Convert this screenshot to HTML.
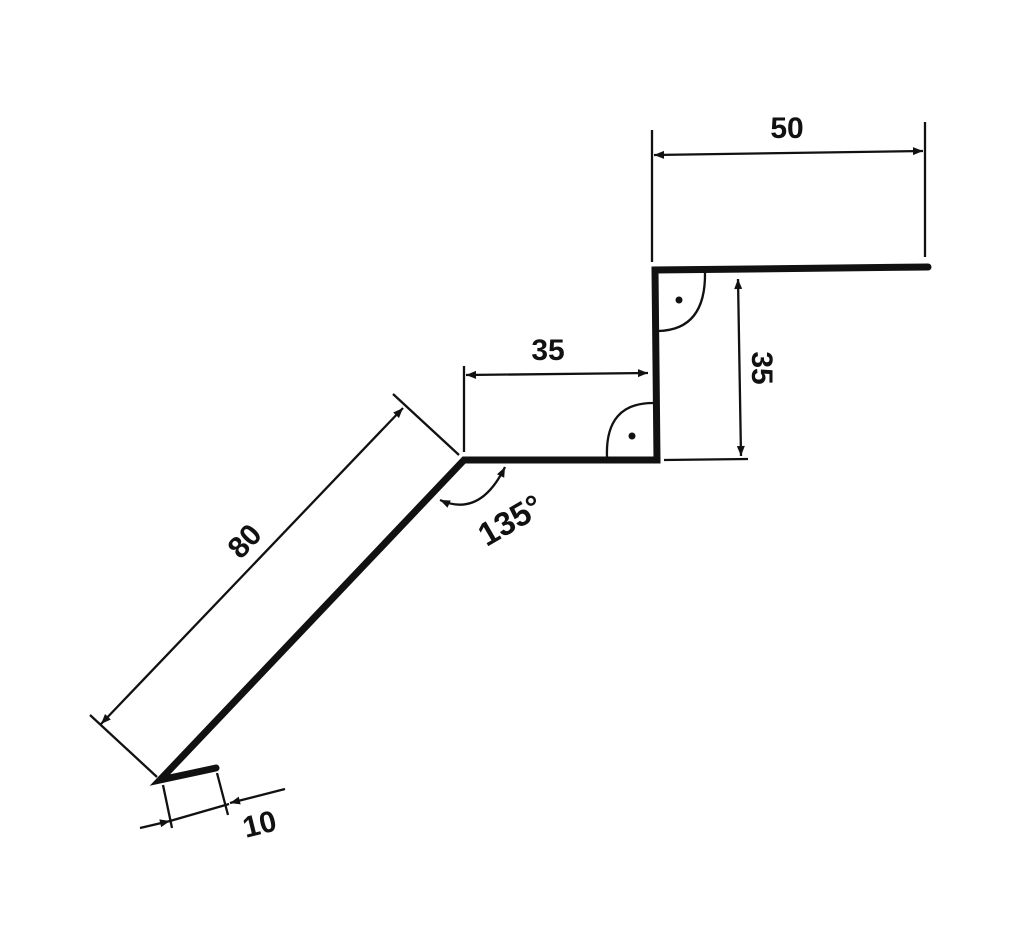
<!DOCTYPE html>
<html><head><meta charset="utf-8"><style>
html,body{margin:0;padding:0;background:#fff}
svg{display:block}
text{font-family:"Liberation Sans",sans-serif;font-weight:bold;font-size:30px;fill:#111}
</style></head><body>
<svg width="1024" height="944" viewBox="0 0 1024 944" xmlns="http://www.w3.org/2000/svg">
<defs>
<marker id="a" viewBox="0 0 10 10" refX="10" refY="5" markerWidth="12" markerHeight="10" markerUnits="userSpaceOnUse" orient="auto-start-reverse">
<path d="M0,1 L10,5 L0,9 z" fill="#111"/></marker>
</defs>
<g fill="none" stroke="#111" stroke-linecap="round" stroke-linejoin="miter">
<polyline points="216,768 160,780 464,460 657,460 655,270 928,267" stroke-width="7"/>
</g>
<g fill="none" stroke="#111" stroke-width="2.3">
<line x1="652" y1="130" x2="652" y2="262"/>
<line x1="925" y1="122" x2="925" y2="257"/>
<line x1="654" y1="155" x2="923" y2="151" marker-start="url(#a)" marker-end="url(#a)"/>
<line x1="464" y1="366" x2="464" y2="452"/>
<line x1="466" y1="375" x2="648" y2="373" marker-start="url(#a)" marker-end="url(#a)"/>
<line x1="664" y1="460" x2="748" y2="459"/>
<line x1="738" y1="279" x2="741" y2="456" marker-start="url(#a)" marker-end="url(#a)"/>
<line x1="393" y1="394" x2="459" y2="455"/>
<line x1="90" y1="715" x2="157" y2="777"/>
<line x1="101" y1="724" x2="403" y2="408" marker-start="url(#a)" marker-end="url(#a)"/>
<line x1="163" y1="785" x2="172" y2="828"/>
<line x1="217" y1="773" x2="228" y2="815"/>
<line x1="140" y1="828" x2="170" y2="821" marker-end="url(#a)"/>
<line x1="170" y1="821" x2="229" y2="804"/>
<line x1="285" y1="789" x2="230" y2="803" marker-end="url(#a)"/>
<path d="M440,500 Q480,518 505,467" marker-start="url(#a)" marker-end="url(#a)"/>
<path d="M705,272 Q706,330 658,331"/>
<path d="M607,457 Q605,403 653,403"/>
</g>
<circle cx="679" cy="300" r="3.5" fill="#111"/>
<circle cx="632" cy="436" r="3.5" fill="#111"/>
<text x="787" y="138" text-anchor="middle">50</text>
<text x="548" y="360" text-anchor="middle">35</text>
<text transform="translate(752,368) rotate(90)" text-anchor="middle">35</text>
<text transform="translate(252,548) rotate(-47)" text-anchor="middle">80</text>
<text transform="translate(262,834) rotate(-14)" text-anchor="middle">10</text>
<text transform="translate(516,530) rotate(-30)" text-anchor="middle" style="font-size:33px">135°</text>
</svg>
</body></html>
